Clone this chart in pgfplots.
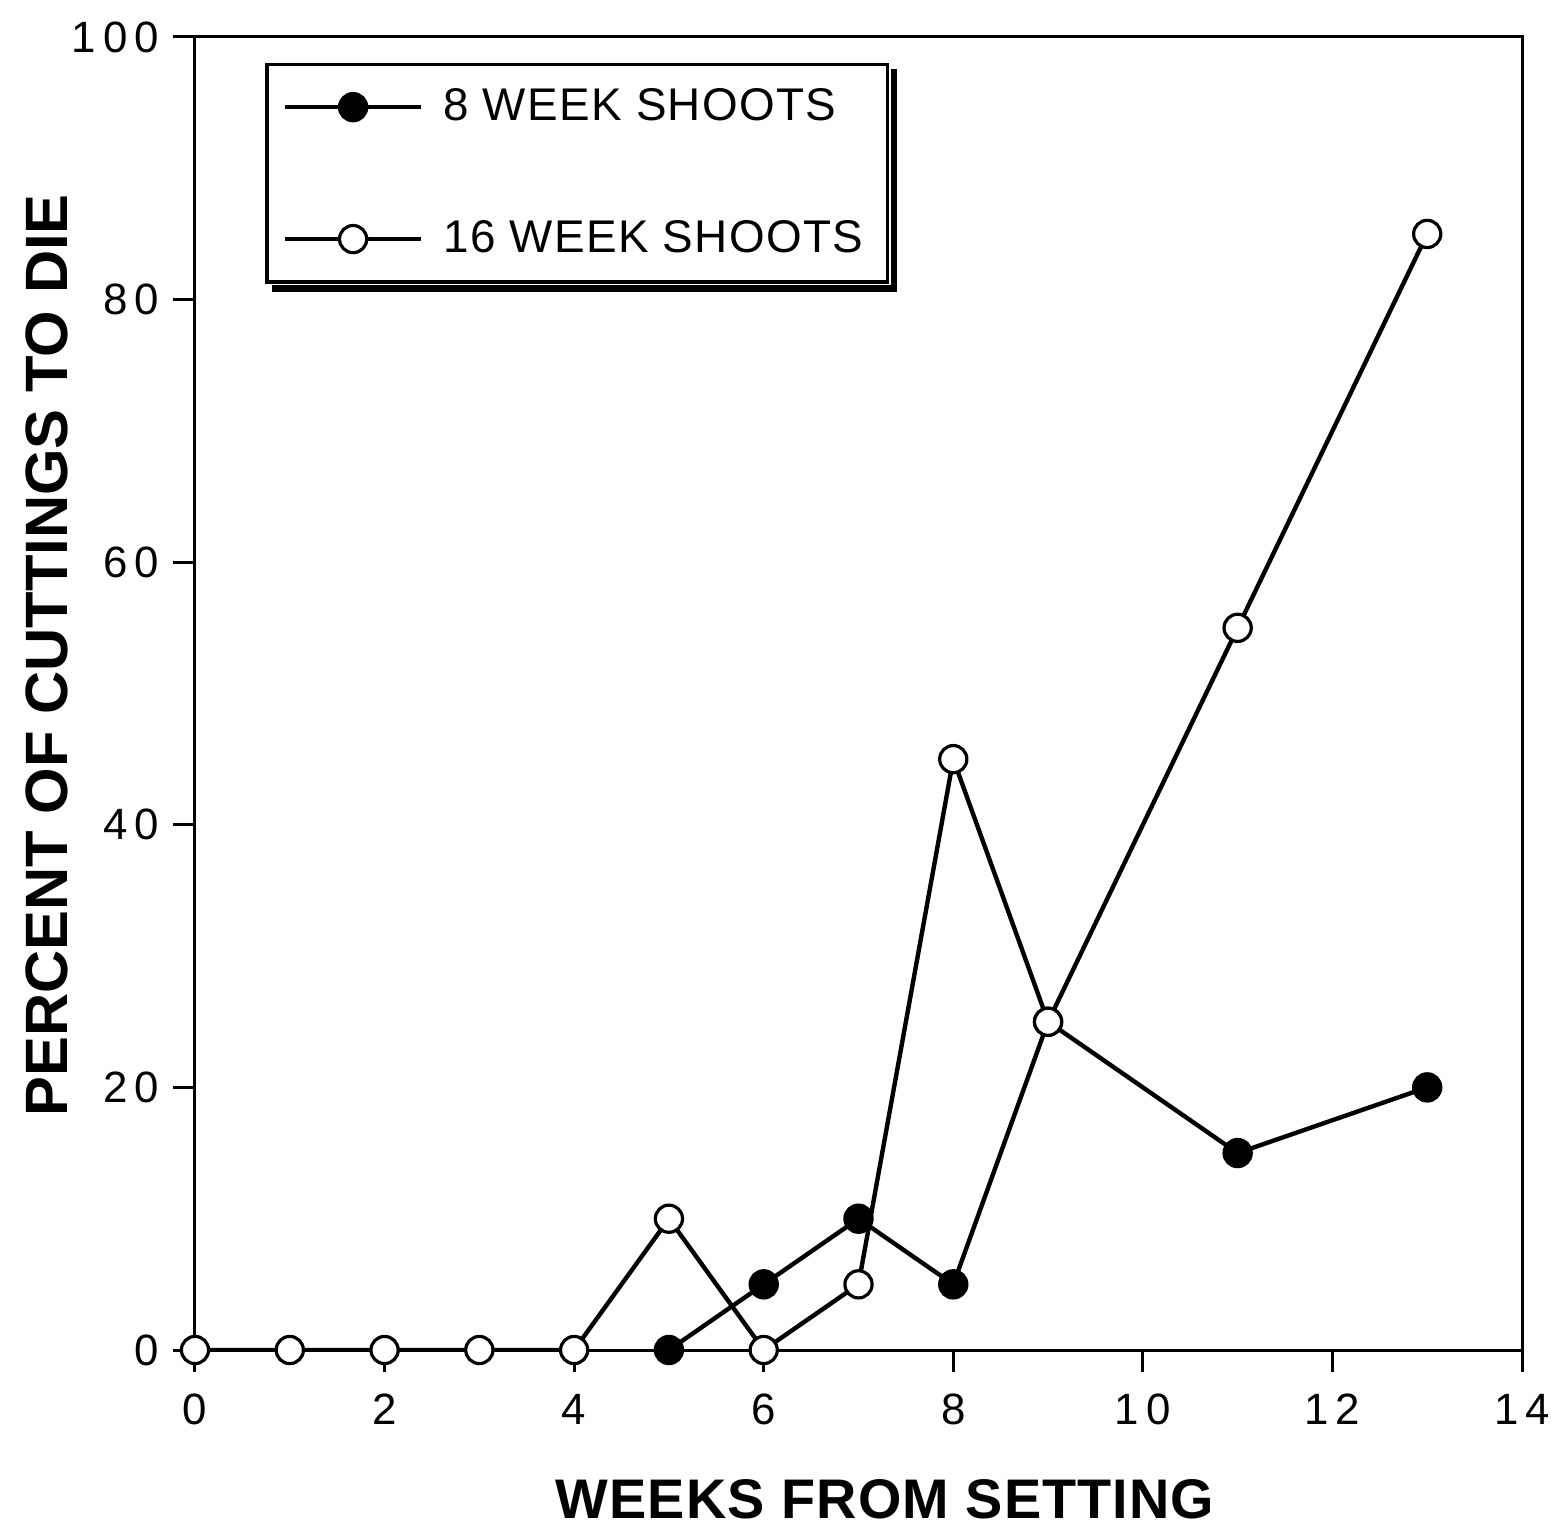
\documentclass[border=0pt]{standalone}
\usepackage{fontspec}
\setmainfont{Liberation Sans}
\usepackage{pgfplots}
\pgfplotsset{compat=1.18}

\pgfplotstableread{
x y
5 0
6 5
7 10
8 5
9 25
11 15
13 20
}\eightweek

\pgfplotstableread{
x y
0 0
1 0
2 0
3 0
4 0
5 10
6 0
7 5
8 45
9 25
11 55
13 85
}\sixteenweek

\begin{document}
\begin{tikzpicture}
\useasboundingbox (-48.75bp,-44.25bp) rectangle (339.5bp,337.5bp);
\begin{axis}[
  scale only axis, width=331.75bp, height=328.25bp,
  xmin=0, xmax=14, ymin=0, ymax=100,
  xtick={0,2,...,14}, ytick={0,20,...,100},
  xtick pos=left, ytick pos=left, tick align=outside,
  major tick length=5.5bp,
  axis line style={line width=0.75bp},
  every tick/.style={line width=0.75bp, black},
  /pgf/number format/assume math mode=true,
  ticklabel style={font=\fontsize{11}{13}\selectfont\addfontfeature{LetterSpace=16}},
  xticklabel style={yshift=-2bp},
  xlabel={WEEKS FROM SETTING},
  ylabel={PERCENT OF CUTTINGS TO DIE},
  xlabel style={at={(axis description cs:0.52,-0.1287)}, anchor=base, inner sep=0pt, font=\fontsize{14}{16}\selectfont\bfseries\addfontfeature{LetterSpace=2}},
  ylabel style={at={(axis description cs:-0.1115,0.529)}, anchor=center, font=\fontsize{15}{17}\selectfont\bfseries},
  legend cell align=left,
  legend style={name=leg, at={(axis description cs:0.053,0.9805)}, anchor=north west,
    draw=black, line width=0.8bp, fill=white,
    inner xsep=4bp, inner ysep=4bp, row sep=19.5bp, column sep=3bp,
    font=\fontsize{11.5}{13}\selectfont\addfontfeature{LetterSpace=3}},
  legend image code/.code={
    \draw[mark repeat=2, mark phase=2] plot coordinates {(0bp,0bp) (17bp,0bp) (34bp,0bp)};
  },
]
\addplot[black, line width=1.1bp, mark=*, mark size=3.4bp, mark options={fill=black, line width=0.8bp}] table[x=x,y=y] {\eightweek};
\addlegendentry{8 WEEK SHOOTS}
\addplot[black, line width=1.1bp, mark=*, mark size=3.4bp, mark options={fill=white, line width=0.8bp}] table[x=x,y=y] {\sixteenweek};
\addlegendentry{16 WEEK SHOOTS\hspace{3bp}}
\end{axis}
\fill[black] ([xshift=0.4bp,yshift=-1.6bp]leg.north east) rectangle ([xshift=2bp,yshift=-2bp]leg.south east);
\fill[black] ([xshift=1.6bp,yshift=-0.4bp]leg.south west) rectangle ([xshift=2bp,yshift=-2bp]leg.south east);
\end{tikzpicture}
\end{document}
